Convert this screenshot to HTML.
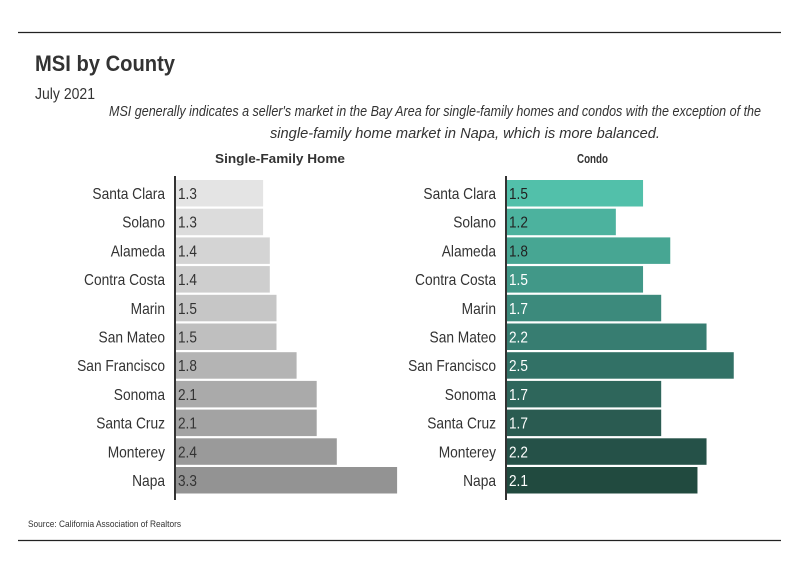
<!DOCTYPE html>
<html><head><meta charset="utf-8"><style>
body{margin:0;background:#fff;}
svg{display:block;}
text{font-family:"Liberation Sans Narrow","Liberation Sans",sans-serif;}
</style></head><body>
<svg id="chart" width="800" height="575" viewBox="0 0 800 575">
<line x1="18" y1="32.5" x2="781" y2="32.5" stroke="#222" stroke-width="1.2"/>
<line x1="18" y1="540.5" x2="781" y2="540.5" stroke="#222" stroke-width="1.2"/>
<text x="35" y="71" font-size="22" font-weight="bold" fill="#333" textLength="140" lengthAdjust="spacingAndGlyphs">MSI by County</text>
<text x="35" y="99" font-size="16" fill="#333" textLength="60" lengthAdjust="spacingAndGlyphs">July 2021</text>
<text x="109" y="116" font-size="14.5" font-style="italic" fill="#333" textLength="652" lengthAdjust="spacingAndGlyphs">MSI generally indicates a seller's market in the Bay Area for single-family homes and condos with the exception of the</text>
<text x="270" y="138" font-size="14.5" font-style="italic" fill="#333" textLength="390" lengthAdjust="spacingAndGlyphs" transform="translate(270,138) scale(1,1) translate(-270,-138)" style="font-size:14.5px">single-family home market in Napa, which is more balanced.</text>
<text x="215" y="163" font-size="13" font-weight="bold" fill="#333" textLength="130" lengthAdjust="spacingAndGlyphs">Single-Family Home</text>
<text x="577" y="163" font-size="13" font-weight="bold" fill="#333" textLength="31" lengthAdjust="spacingAndGlyphs">Condo</text>
<text x="28" y="527" font-size="9.5" fill="#333" textLength="153" lengthAdjust="spacingAndGlyphs">Source:  California Association of Realtors</text>
<g id="bars"></g>
</svg>
<script>
const counties = ["Santa Clara","Solano","Alameda","Contra Costa","Marin","San Mateo","San Francisco","Sonoma","Santa Cruz","Monterey","Napa"];
const sfhValues = [1.3,1.3,1.4,1.4,1.5,1.5,1.8,2.1,2.1,2.4,3.3];
const condoValues = [1.5,1.2,1.8,1.5,1.7,2.2,2.5,1.7,1.7,2.2,2.1];
const sfhColors = ["#e4e4e4","#dcdcdc","#d4d4d4","#cecece","#c6c6c6","#bfbfbf","#b4b4b4","#aaaaaa","#a3a3a3","#9a9a9a","#939393"];
const condoColors = ["#52c0aa","#4cb29e","#47a693","#419888","#3c8a7c","#377d71","#327166","#2e665b","#2a5b51","#255148","#214a3f"];
const condoTextColors = ["#222","#222","#222","#fff","#fff","#fff","#fff","#fff","#fff","#fff","#fff"];
const NS="http://www.w3.org/2000/svg";
const g=document.getElementById('bars');
function yPos(i){return 180+i*28.7;}
function mk(tag,attrs){const e=document.createElementNS(NS,tag);for(const k in attrs)e.setAttribute(k,attrs[k]);g.appendChild(e);return e;}
function panel(axisX,scale,values,colors,textColors,prefix){
  counties.forEach((c,i)=>{
    const y=yPos(i);
    const r=mk('rect',{x:axisX+1,y:y,width:values[i]*scale,height:26.5,fill:colors[i]});
    
    
    const v=mk('text',{x:0,y:0,transform:'translate('+(axisX+3)+','+(y+19)+') scale(0.85,1)','font-size':16,fill:textColors?textColors[i]:'#333'});
    v.textContent=values[i].toFixed(1);
    
    
    const l=mk('text',{x:0,y:0,transform:'translate('+(axisX-10)+','+(y+19)+') scale(0.86,1)','font-size':16,fill:'#333','text-anchor':'end'});
    l.textContent=c;
    
    
  });
  const a=mk('line',{x1:axisX,y1:176,x2:axisX,y2:500,stroke:'#333','stroke-width':2});
  
  
}
panel(175,67,sfhValues,sfhColors,null,'sfh');
panel(506,90.7,condoValues,condoColors,condoTextColors,'condo');
</script>
</body></html>
